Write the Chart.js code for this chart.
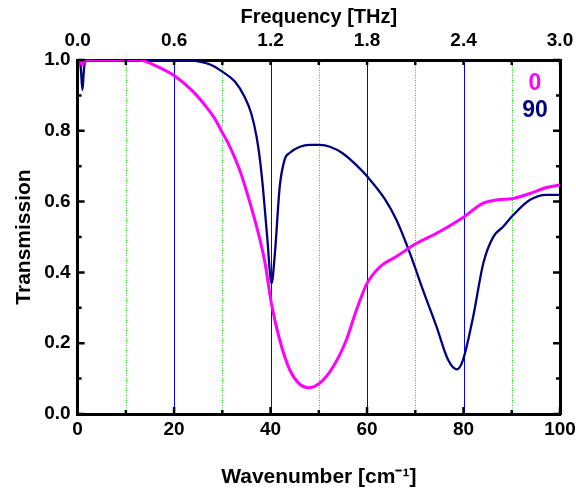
<!DOCTYPE html>
<html lang="en">
<head>
    <meta charset="UTF-8">
    <title>Transmission</title>
    <script src="https://cdn.jsdelivr.net/npm/chart.js"></script>
    <style>
        body { margin: 0; background: #fff; }
    </style>
</head>
<body>
    <canvas id="transmissionChart" width="576" height="493"></canvas>

    <script>
        // 0 deg curve (magenta)
        const waveMagenta = [0.5, 1.0, 1.5, 2, 5, 10, 13, 16, 20, 24, 27, 28.4, 30, 31.2, 33.6, 35, 37, 38.8, 40.2, 41.9, 44, 46, 47.8, 50.2, 53, 55.7, 57.8, 60, 62.7, 66, 70, 75, 80, 84, 87, 90.3, 93.8, 97.2, 100];
        const transMagenta = [1.0, 0.985, 1.0, 1.0, 1.0, 1.0, 0.999, 0.985, 0.956, 0.91, 0.862, 0.835, 0.795, 0.765, 0.689, 0.63, 0.535, 0.43, 0.31, 0.209, 0.124, 0.085, 0.074, 0.087, 0.134, 0.209, 0.294, 0.369, 0.416, 0.444, 0.48, 0.515, 0.556, 0.595, 0.605, 0.609, 0.623, 0.64, 0.647];

        // 90 deg curve (navy)
        const waveNavy = [0.5, 0.7, 1.0, 1.3, 1.6, 10, 20, 22.8, 25, 27.7, 30, 32.6, 34.6, 36, 37.1, 37.8, 38.4, 39.3, 40.2, 40.9, 41.9, 42.9, 44, 46.1, 48.1, 50.2, 52.3, 55, 57.8, 60.1, 63.7, 66.1, 68.9, 71.6, 74.4, 76.8, 78.6, 79.9, 82, 84.1, 86.2, 88.2, 90.3, 93.8, 97.2, 100];
        const transNavy = [1.0, 0.97, 0.915, 0.97, 1.0, 1.0, 1.0, 1.0, 0.996, 0.986, 0.967, 0.939, 0.896, 0.849, 0.783, 0.718, 0.642, 0.5, 0.369, 0.454, 0.642, 0.718, 0.738, 0.755, 0.76, 0.76, 0.755, 0.736, 0.703, 0.67, 0.607, 0.548, 0.454, 0.35, 0.247, 0.153, 0.126, 0.153, 0.275, 0.426, 0.501, 0.529, 0.562, 0.605, 0.619, 0.619];

        const seriesNames = ['0', '90'];
        const seriesColors = ['#ff00ff', '#000080'];

        const toPoints = (xs, ys) => xs.map((x, i) => ({ x: x, y: ys[i] }));
        const fontFamily = '"Liberation Sans", Arial, sans-serif';
        const tickFont = { family: fontFamily, size: 19, weight: 'bold' };
        const titleFont = { family: fontFamily, size: 21, weight: 'bold' };
        // let the last tick label hang over the right edge like the original
        const trimRight = scale => { scale.paddingRight = 16; };

        // gridlines, inward tick marks and the text legend
        const framePlugin = {
            id: 'frame',
            beforeDatasetsDraw(chart) {
                const { ctx, chartArea: a, scales: { x } } = chart;
                ctx.save();
                x.ticks.forEach(t => {
                    if (t.value <= 0 || t.value >= 100) return;
                    const px = Math.round(x.getPixelForValue(t.value)) + 0.5;
                    const major = t.value % 20 === 0;
                    ctx.strokeStyle = major ? '#0000ff' : '#00e000';
                    ctx.lineWidth = 1;
                    ctx.setLineDash(major ? [] : [1, 1.5]);
                    ctx.beginPath();
                    ctx.moveTo(px, a.top);
                    ctx.lineTo(px, a.bottom);
                    ctx.stroke();
                });
                ctx.restore();
            },
            afterDatasetsDraw(chart) {
                const { ctx, chartArea: a, scales: { x, y } } = chart;
                ctx.save();
                ctx.strokeStyle = '#000';
                ctx.lineWidth = 2.5;
                ctx.beginPath();
                x.ticks.forEach(t => {
                    const px = x.getPixelForValue(t.value);
                    const len = t.value % 20 === 0 ? 7 : 4;
                    ctx.moveTo(px, a.bottom);
                    ctx.lineTo(px, a.bottom - len);
                    ctx.moveTo(px, a.top);
                    ctx.lineTo(px, a.top + 5);
                });
                y.ticks.forEach(t => {
                    const py = y.getPixelForValue(t.value);
                    const len = Math.round(t.value * 10) % 2 === 0 ? 7 : 4;
                    ctx.moveTo(a.left, py);
                    ctx.lineTo(a.left + len, py);
                    ctx.moveTo(a.right, py);
                    ctx.lineTo(a.right - len, py);
                });
                ctx.stroke();

                ctx.font = 'bold 23px ' + fontFamily;
                ctx.textAlign = 'center';
                ctx.textBaseline = 'middle';
                seriesNames.forEach((name, i) => {
                    ctx.fillStyle = seriesColors[i];
                    ctx.fillText(name, a.right - 25, a.top + 24 + i * 27);
                });
                ctx.restore();
            }
        };

        new Chart(document.getElementById('transmissionChart'), {
            type: 'line',
            data: {
                datasets: [{
                    label: seriesNames[0],
                    data: toPoints(waveMagenta, transMagenta),
                    borderColor: seriesColors[0],
                    borderWidth: 3,
                    cubicInterpolationMode: 'monotone'
                }, {
                    label: seriesNames[1],
                    data: toPoints(waveNavy, transNavy),
                    borderColor: seriesColors[1],
                    borderWidth: 2.3,
                    cubicInterpolationMode: 'monotone'
                }]
            },
            options: {
                responsive: false,
                animation: false,
                events: [],
                elements: { point: { radius: 0 } },
                layout: { padding: { top: 0, left: 11.5, right: 0, bottom: 2 } },
                plugins: { legend: { display: false }, tooltip: { enabled: false } },
                scales: {
                    x: {
                        type: 'linear', position: 'bottom', min: 0, max: 100,
                        afterFit: trimRight,
                        grid: { drawOnChartArea: false, drawTicks: false },
                        border: { color: '#000', width: 3 },
                        ticks: {
                            stepSize: 10, autoSkip: false, maxRotation: 0, padding: 4.6,
                            color: '#000', font: tickFont,
                            callback: v => (v % 20 === 0 ? String(v) : '')
                        },
                        title: {
                            display: true, text: 'Wavenumber [cm\u207B\u00B9]', color: '#000',
                            font: titleFont, padding: { top: 18.3, bottom: 1.5 }
                        }
                    },
                    x2: {
                        type: 'linear', position: 'top', min: 0, max: 3.0,
                        afterFit: trimRight,
                        grid: { drawOnChartArea: false, drawTicks: false },
                        border: { color: '#000', width: 3 },
                        ticks: {
                            stepSize: 0.6, autoSkip: false, maxRotation: 0, padding: 11.9,
                            color: '#000', font: { family: fontFamily, size: 19, weight: 'bold', lineHeight: 0.8 },
                            callback: v => v.toFixed(1)
                        },
                        title: {
                            display: true, text: 'Frequency [THz]', color: '#000',
                            font: { family: fontFamily, size: 20, weight: 'bold', lineHeight: 1 },
                            padding: { top: 7.5, bottom: -6.5 }
                        }
                    },
                    y: {
                        type: 'linear', position: 'left', min: 0, max: 1,
                        grid: { drawOnChartArea: false, drawTicks: false },
                        border: { color: '#000', width: 3 },
                        ticks: {
                            stepSize: 0.1, autoSkip: false, padding: 7,
                            color: '#000', font: tickFont,
                            callback: v => (Math.round(v * 10) % 2 === 0 ? v.toFixed(1) : '')
                        },
                        title: {
                            display: true, text: 'Transmission', color: '#000',
                            font: titleFont, padding: { top: 0, bottom: 0.5 }
                        }
                    },
                    y2: {
                        type: 'linear', position: 'right', min: 0, max: 1,
                        grid: { drawOnChartArea: false, drawTicks: false },
                        border: { color: '#000', width: 3 },
                        ticks: { display: false }
                    }
                }
            },
            plugins: [framePlugin]
        });
    </script>
</body>
</html>
